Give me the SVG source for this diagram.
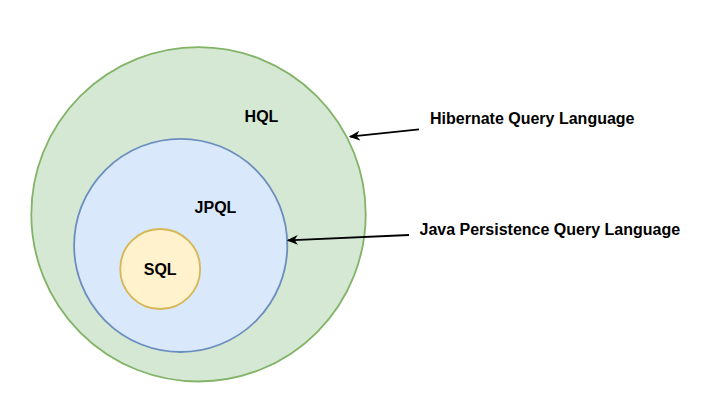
<svg xmlns="http://www.w3.org/2000/svg" width="708" height="414" viewBox="0 0 708 414">
<defs>
<style>
.lbl{font-family:"Liberation Sans",Arial,sans-serif;font-weight:bold;font-size:16px;fill:#000;}
.conn{stroke:#000;stroke-width:1.8;fill:none;}
</style>
<marker id="arr" viewBox="0 0 10 10" refX="9" refY="5" markerWidth="11" markerHeight="11" markerUnits="userSpaceOnUse" orient="auto">
<path d="M0,0.5 L10,5 L0,9.5 L3,5 Z" fill="#000"/>
</marker>
</defs>
<rect width="708" height="414" fill="#fff"/>
<g id="hql">
<circle cx="198.5" cy="214.3" r="167.2" fill="#d5e8d4" stroke="#82b366" stroke-width="1.8"/>
<text class="lbl" x="261.5" y="122" text-anchor="middle">HQL</text>
</g>
<g id="jpql">
<circle cx="180.7" cy="245.4" r="106.6" fill="#dae8fc" stroke="#6c8ebf" stroke-width="1.8"/>
<text class="lbl" x="215.5" y="212.5" text-anchor="middle">JPQL</text>
</g>
<g id="sql">
<circle cx="160.2" cy="269" r="40" fill="#fff2cc" stroke="#d6b656" stroke-width="1.8"/>
<text class="lbl" x="160.2" y="275" text-anchor="middle">SQL</text>
</g>
<g id="hql-label">
<text class="lbl" x="430" y="124">Hibernate Query Language</text>
</g>
<g id="jpql-label">
<text class="lbl" x="419.5" y="235">Java Persistence Query Language</text>
</g>
<g id="connectors">
<line class="conn" x1="419" y1="129.3" x2="350" y2="136.7" marker-end="url(#arr)"/>
<line class="conn" x1="409" y1="235" x2="288" y2="240.3" marker-end="url(#arr)"/>
</g>
</svg>
